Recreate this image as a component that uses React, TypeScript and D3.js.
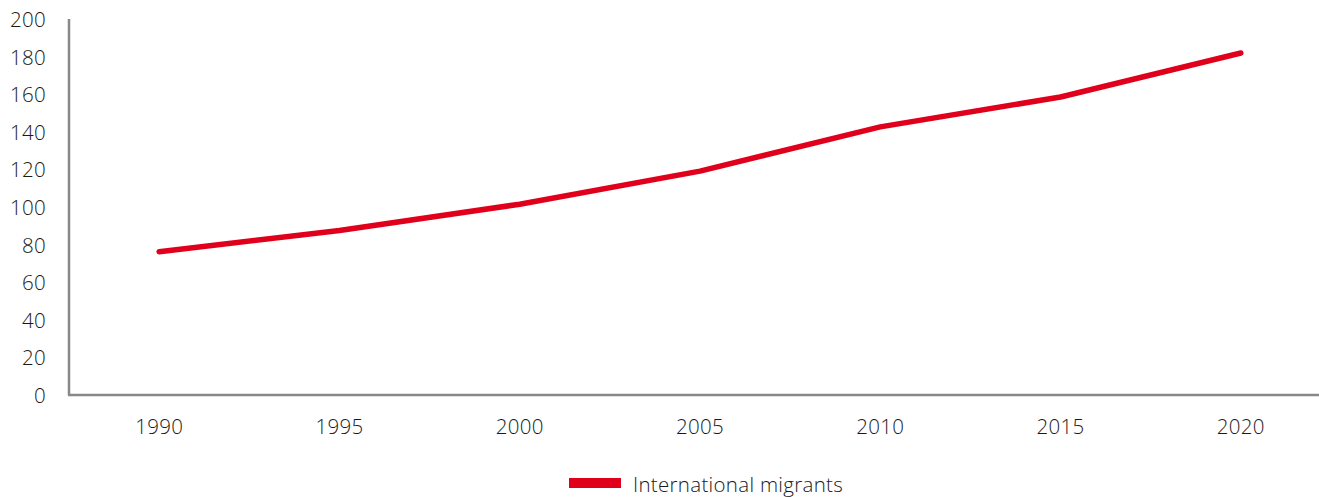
import React from "react";
import * as d3 from "d3";

const years = ["1990", "1995", "2000", "2005", "2010", "2015", "2020"];
const migrants = [76.2, 87.5, 101.5, 119.1, 142.6, 158.5, 181.9];
const yTicks = [0, 20, 40, 60, 80, 100, 120, 140, 160, 180, 200];
const seriesName = "International migrants";

const W = 1319;
const H = 497;
const RED = "#E0001B";
const TEXT = "#1a1a1a";
const FONT = "'Open Sans', 'Segoe UI', sans-serif";
const FS = 20.5;

export default function App() {
  const x = d3.scaleBand<string>().domain(years).range([69, 1331]);
  const y = d3.scaleLinear().domain([0, 200]).range([395, 19]);
  const line = d3
    .line<number>()
    .x((_, i) => (x(years[i]) as number) + x.bandwidth() / 2)
    .y((d) => y(d));

  const textProps = {
    fontFamily: FONT,
    fontWeight: 300,
    fontSize: FS,
    fill: TEXT,
    letterSpacing: 0.3,
  };

  return (
    <svg
      width={W}
      height={H}
      style={{ position: "absolute", left: 0, top: 0, background: "#fff" }}
    >
      <line x1={69} x2={69} y1={19} y2={y(0)} stroke="#888" strokeWidth={2.5} />
      <line x1={68} x2={W} y1={y(0)} y2={y(0)} stroke="#888" strokeWidth={2.5} />
      {yTicks.map((t) => (
        <text
          key={t}
          x={46}
          y={y(t)}
          textAnchor="end"
          dominantBaseline="central"
          {...textProps}
        >
          {t}
        </text>
      ))}
      {years.map((yr) => (
        <text
          key={yr}
          x={(x(yr) as number) + x.bandwidth() / 2}
          y={426}
          textAnchor="middle"
          dominantBaseline="central"
          {...textProps}
        >
          {yr}
        </text>
      ))}
      <path
        d={line(migrants) || ""}
        fill="none"
        stroke={RED}
        strokeWidth={5.5}
        strokeLinecap="round"
        strokeLinejoin="round"
      />
      <rect x={569} y={478} width={52} height={10} fill={RED} />
      <text x={633} y={484} dominantBaseline="central" {...textProps}>
        {seriesName}
      </text>
    </svg>
  );
}
